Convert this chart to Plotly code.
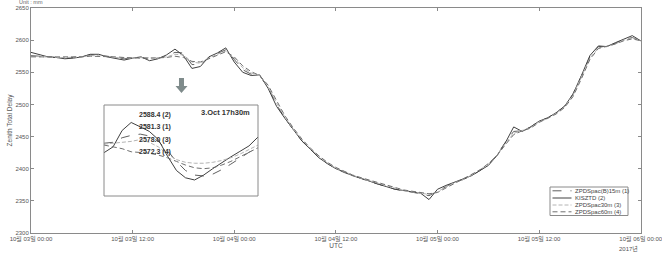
import plotly.graph_objects as go
import pandas as pd

# ---------------- data ----------------
times = pd.date_range("2017-10-03 00:00", "2017-10-06 00:00", freq="1h")

zpd15 = [2576, 2575, 2574, 2573, 2572, 2573, 2575, 2577, 2577, 2575,
         2573, 2571, 2572, 2573, 2571, 2572, 2575, 2581, 2580, 2562,
         2562, 2573, 2579, 2585, 2570, 2554, 2547, 2545, 2527, 2500,
         2478, 2460, 2443, 2430, 2418, 2408, 2400, 2394, 2389, 2384,
         2380, 2376, 2372, 2368, 2366, 2364, 2361, 2358, 2365, 2373,
         2379, 2383, 2389, 2397, 2406, 2421, 2441, 2458, 2459, 2465,
         2474, 2479, 2487, 2497, 2516, 2544, 2574, 2590, 2590, 2595,
         2601, 2604, 2599]
kisztd = [2581, 2578, 2574, 2573, 2571, 2572, 2574, 2578, 2578, 2574,
          2571, 2569, 2572, 2574, 2568, 2571, 2577, 2586, 2576, 2556,
          2559, 2574, 2580, 2588, 2566, 2550, 2545, 2546, 2525, 2497,
          2478, 2460, 2443, 2430, 2417, 2408, 2400, 2395, 2389, 2385,
          2380, 2376, 2372, 2368, 2366, 2364, 2362, 2352, 2368, 2374,
          2379, 2383, 2389, 2397, 2405, 2420, 2440, 2465, 2458, 2465,
          2474, 2479, 2487, 2497, 2516, 2545, 2576, 2591, 2590, 2596,
          2602, 2607, 2599]
zpd30 = [2575, 2574, 2574, 2573, 2573, 2573, 2574, 2576, 2576, 2575,
         2573, 2572, 2572, 2573, 2572, 2572, 2574, 2578, 2577, 2566,
         2564, 2572, 2578, 2583, 2572, 2557, 2549, 2545, 2528, 2502,
         2480, 2461, 2445, 2431, 2419, 2409, 2401, 2395, 2390, 2385,
         2381, 2377, 2373, 2369, 2366, 2364, 2362, 2360, 2364, 2372,
         2378, 2383, 2390, 2398, 2407, 2420, 2439, 2455, 2459, 2464,
         2473, 2478, 2486, 2496, 2514, 2542, 2572, 2588, 2590, 2594,
         2600, 2603, 2599]
zpd60 = [2574, 2574, 2573, 2573, 2573, 2573, 2574, 2575, 2575, 2575,
         2574, 2573, 2572, 2572, 2572, 2572, 2573, 2575, 2573, 2567,
         2566, 2571, 2577, 2582, 2574, 2560, 2551, 2545, 2530, 2505,
         2482, 2463, 2446, 2432, 2420, 2410, 2402, 2396, 2390, 2386,
         2382, 2378, 2374, 2370, 2367, 2365, 2363, 2361, 2363, 2370,
         2377, 2383, 2390, 2398, 2408, 2420, 2437, 2453, 2459, 2463,
         2472, 2478, 2485, 2495, 2512, 2540, 2570, 2587, 2590, 2594,
         2599, 2602, 2599]

inset_times = pd.date_range("2017-10-03 16:45", "2017-10-03 21:00", freq="15min")
inset_zpd15 = [2577, 2577.5, 2580, 2581.3, 2582, 2581, 2578, 2573, 2567,
               2562, 2559.5, 2559, 2560, 2562.5, 2565.5, 2569, 2572, 2574.5]
inset_kisztd = [2571.8, 2575, 2584, 2588.4, 2586, 2583.5, 2579, 2570, 2562,
                2558, 2556.8, 2559.5, 2563, 2566.5, 2569.5, 2572.5, 2575.5, 2580.4]
inset_zpd30 = [2576.5, 2577, 2577.6, 2578.0, 2579, 2577.5, 2575, 2571, 2568,
               2566.5, 2566, 2566, 2566.5, 2567.5, 2569, 2571, 2573.5, 2576]
inset_zpd60 = [2576, 2575, 2574, 2572.3, 2572, 2571.5, 2570.5, 2569, 2567,
               2565, 2563.5, 2563, 2563.5, 2565, 2567, 2569.5, 2572, 2574.5]

series_names = ["ZPDSpac(B)15m (1)", "KISZTD (2)", "ZPDSpac30m (3)", "ZPDSpac60m (4)"]
inset_labels = ["2588.4 (2)", "2581.3 (1)", "2578.0 (3)", "2572.3 (4)"]
inset_title = "3.Oct 17h30m"

x_tickvals = pd.date_range("2017-10-03 00:00", "2017-10-06 00:00", freq="12h")
x_ticktext = ["10월 03일 00:00", "10월 03일 12:00", "10월 04일 00:00", "10월 04일 12:00",
              "10월 05일 00:00", "10월 05일 12:00", "10월 06일 00:00"]
y_tickvals = [2300, 2350, 2400, 2450, 2500, 2550, 2600, 2650]

# ---------------- style ----------------
FONT = "Liberation Sans, Arial, Noto Sans CJK KR, sans-serif"
styles = [
    dict(color="#606060", width=1, dash="dash"),
    dict(color="#404040", width=1, dash="solid"),
    dict(color="#b4b4b4", width=1, dash="4px,2px"),
    dict(color="#707070", width=1, dash="5px,3px"),
]

W, H = 662, 254
L, R, T, B = 31, 21, 8, 21
PW, PH = W - L - R, H - T - B


def px_x(p):
    return (p - L) / PW


def px_y(p):
    return (H - B - p) / PH


fig = go.Figure()
main_series = [zpd15, kisztd, zpd30, zpd60]
inset_series = [inset_zpd15, inset_kisztd, inset_zpd30, inset_zpd60]
for name, vals, st in zip(series_names, main_series, styles):
    fig.add_trace(go.Scatter(x=times, y=vals, mode="lines", name=name,
                             line=st, showlegend=False, hoverinfo="skip"))
for name, vals, st in zip(series_names, inset_series, styles):
    fig.add_trace(go.Scatter(x=inset_times, y=vals, mode="lines", name=name,
                             line=st, showlegend=False, xaxis="x2", yaxis="y2",
                             hoverinfo="skip"))

axis_common = dict(showline=True, linecolor="#8a8a8a", linewidth=1, mirror="ticks",
                   ticks="inside", ticklen=3, tickcolor="#8a8a8a", showgrid=False,
                   zeroline=False, tickfont=dict(family=FONT, size=6, color="#555555"))

shapes = []
annotations = []

# inset box
shapes.append(dict(type="rect", xref="paper", yref="paper",
                   x0=px_x(104), x1=px_x(258), y0=px_y(196), y1=px_y(105),
                   line=dict(color="#8a8a8a", width=1), fillcolor="rgba(0,0,0,0)"))

# arrow
ax = [(179, 78), (184, 78), (184, 86), (187.5, 86), (181.5, 93), (175.5, 86), (179, 86)]
path = "M " + " L ".join(f"{px_x(a):.4f},{px_y(b):.4f}" for a, b in ax) + " Z"
shapes.append(dict(type="path", xref="paper", yref="paper", path=path,
                   fillcolor="#7f8b8b", line=dict(width=0)))

# legend box
shapes.append(dict(type="rect", xref="paper", yref="paper",
                   x0=px_x(550), x1=px_x(628), y0=px_y(215.5), y1=px_y(187),
                   line=dict(color="#8a8a8a", width=1), fillcolor="white"))
rows = [190.8, 198.0, 205.0, 211.8]
for name, st, ry in zip(series_names, styles, rows):
    shapes.append(dict(type="line", xref="paper", yref="paper",
                       x0=px_x(552.5), x1=px_x(571.5), y0=px_y(ry), y1=px_y(ry),
                       line=dict(color=st["color"], width=1, dash=st["dash"])))
    annotations.append(dict(xref="paper", yref="paper", x=px_x(572.5), y=px_y(ry),
                            text=name, showarrow=False, xanchor="left", yanchor="middle",
                            font=dict(family=FONT, size=6, color="#444444")))

# inset texts
label_rows = [115, 127, 140, 152]
for t, ry in zip(inset_labels, label_rows):
    annotations.append(dict(xref="paper", yref="paper", x=px_x(137), y=px_y(ry),
                            text=f"<b>{t}</b>", showarrow=False, xanchor="left",
                            yanchor="middle",
                            font=dict(family=FONT, size=7, color="#333333")))
annotations.append(dict(xref="paper", yref="paper", x=px_x(252), y=px_y(112),
                        text=f"<b>{inset_title}</b>", showarrow=False, xanchor="right",
                        yanchor="middle", font=dict(family=FONT, size=7.5, color="#333333")))

annotations.append(dict(xref="paper", yref="paper", x=px_x(17), y=px_y(2.5),
                        text="Unit : mm", showarrow=False, xanchor="left", yanchor="middle",
                        font=dict(family=FONT, size=5.5, color="#666666")))
annotations.append(dict(xref="paper", yref="paper", x=px_x(617), y=px_y(248),
                        text="2017년", showarrow=False, xanchor="left", yanchor="middle",
                        font=dict(family=FONT, size=6, color="#555555")))

x_end = times[-1] + pd.Timedelta(minutes=2)

fig.update_layout(
    width=W, height=H,
    margin=dict(l=L, r=R, t=T, b=B, pad=0),
    paper_bgcolor="white", plot_bgcolor="white",
    font=dict(family=FONT, size=6, color="#555555"),
    xaxis=dict(axis_common, range=[times[0], x_end], tickvals=x_tickvals,
               ticktext=x_ticktext, automargin=False, ticklabeloverflow="allow",
               title=dict(text="UTC", font=dict(family=FONT, size=6.5, color="#555555"),
                          standoff=1)),
    yaxis=dict(axis_common, range=[2300, 2650], tickvals=y_tickvals, automargin=False,
               title=dict(text="Zenith Total Delay",
                          font=dict(family=FONT, size=6.5, color="#555555"), standoff=2)),
    xaxis2=dict(domain=[px_x(104), px_x(258)], anchor="y2",
                range=[inset_times[0], inset_times[-1]], visible=False),
    yaxis2=dict(domain=[px_y(196), px_y(105)], anchor="x2",
                range=[2548, 2598], visible=False),
    shapes=shapes,
    annotations=annotations,
    showlegend=False,
)

fig.write_html("out.html")
